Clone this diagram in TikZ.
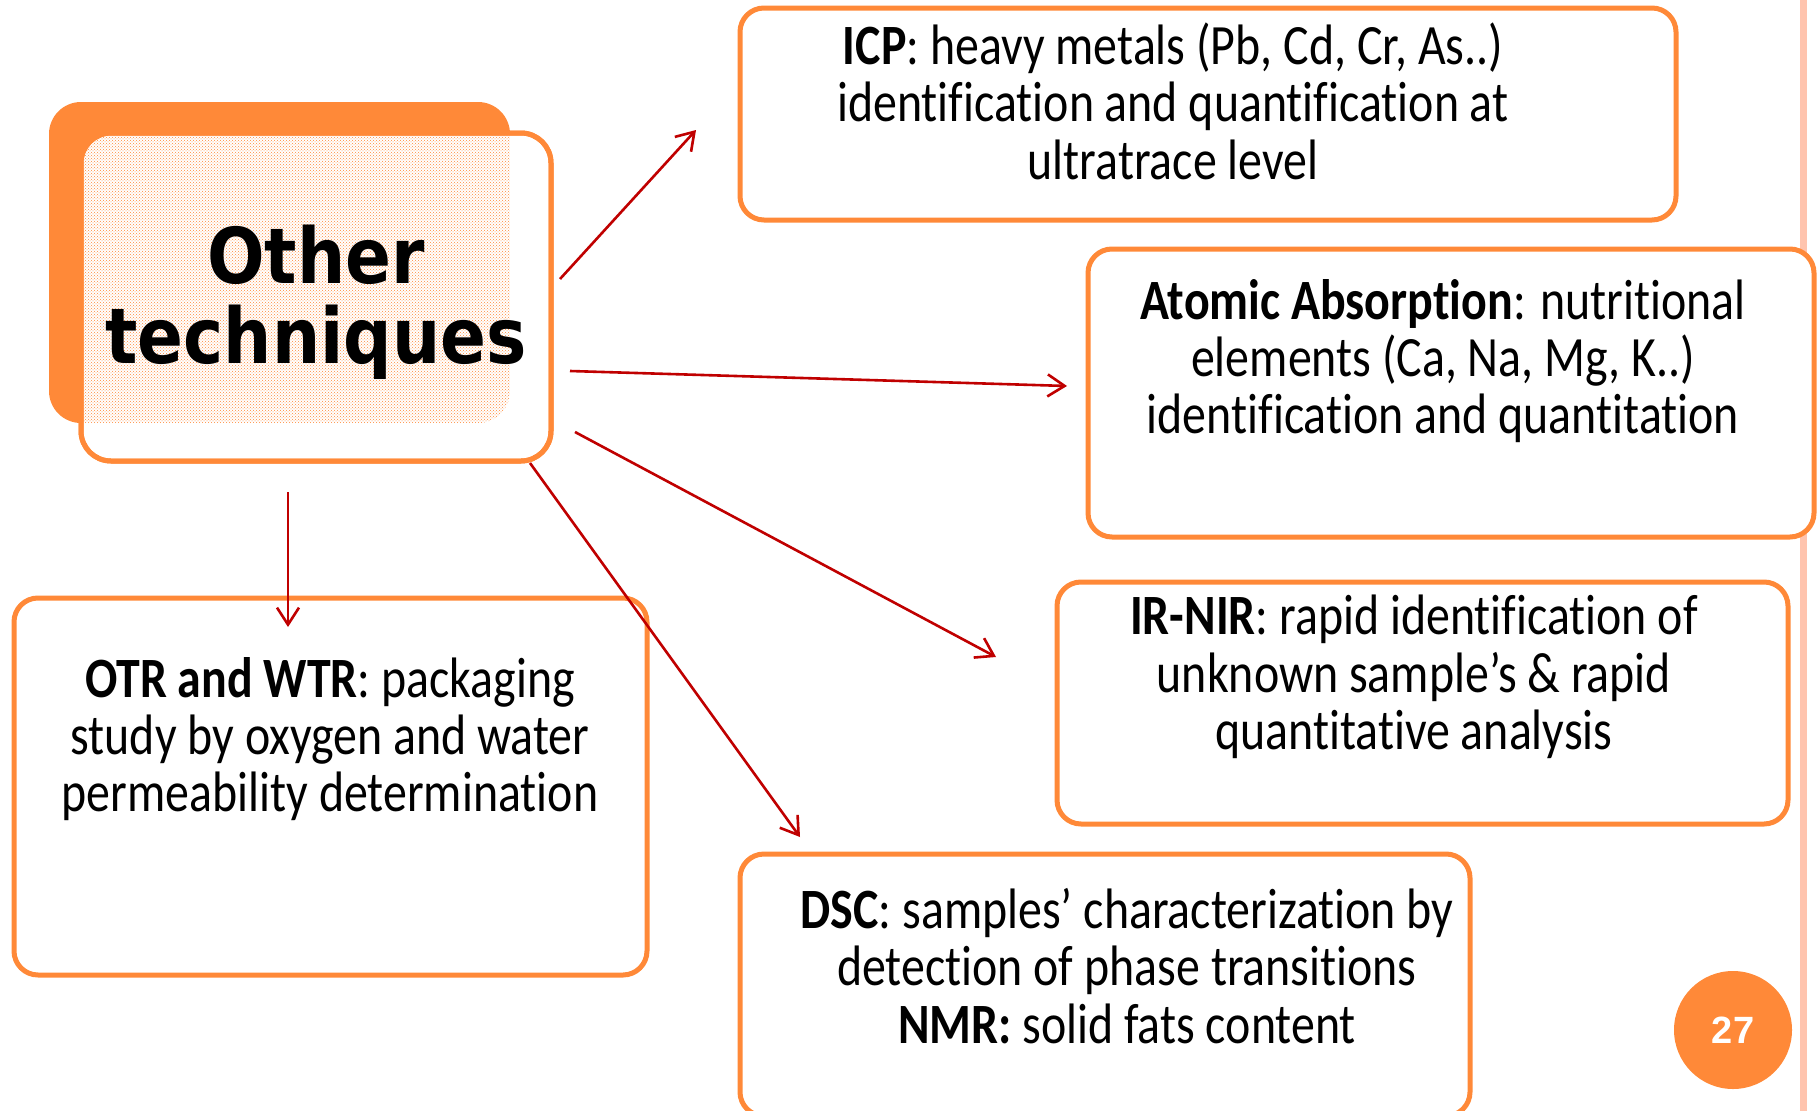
\documentclass[tikz,border=0pt]{standalone}
\usepackage{fontspec}
\setmainfont{Carlito}[FakeStretch=0.84, Ligatures={NoCommon,NoContextual}, RawFeature={-liga;-dlig;-calt}]
\newfontfamily\titlefont{DejaVu Sans}[FakeStretch=0.88]
\newfontfamily\numfont{Liberation Sans}
\usetikzlibrary{arrows.meta,patterns}

\definecolor{boxorange}{RGB}{255,137,56}
\definecolor{arrowred}{RGB}{192,0,0}
\definecolor{stripe}{RGB}{255,196,174}

\begin{document}
\begin{tikzpicture}[x=1pt,y=-1pt,
  box/.style={draw=boxorange, line width=5pt, rounded corners=24pt, fill=white,
    inner sep=0pt, outer sep=0pt},
  backbox/.style={fill=boxorange, rounded corners=32pt, inner sep=0pt, outer sep=0pt},
  body/.style={font=\fontsize{57}{57.4}\selectfont, align=center, inner sep=0pt},
  link/.style={draw=arrowred, line width=2.6pt,
    -{Straight Barb[length=17pt,width=22pt,line width=2.6pt]}}]

% page area and side stripe
\useasboundingbox (0,0) rectangle (1818,1111);
\fill[white] (0,0) rectangle (1818,1111);
\fill[stripe] (1800,0) rectangle (1807,1111);

% central title block
\node[backbox, minimum width=461pt, minimum height=321pt] (otherback) at (279.5,262.5) {};
\node[box, rounded corners=30pt, minimum width=470pt, minimum height=328pt] (other) at (316,297) {};
\begin{scope}
  \clip[rounded corners=30pt] (other.north west) rectangle (other.south east);
  \fill[pattern=crosshatch dots, pattern color=boxorange, rounded corners=32pt]
    (otherback.north west) rectangle (otherback.south east);
\end{scope}
\draw[boxorange, line width=5pt, rounded corners=30pt]
  (other.north west) rectangle (other.south east);
\node[font=\titlefont\bfseries\fontsize{77}{80}\selectfont, align=center, inner sep=0pt]
  (title) at (316,302) {Other\\techniques};

% technique boxes
\node[box, minimum width=936pt, minimum height=212pt] (icp) at (1208,114) {};
\node[box, minimum width=726pt, minimum height=288pt] (aas) at (1451,393) {};
\node[box, minimum width=731pt, minimum height=242pt] (ir) at (1422.5,703) {};
\node[box, minimum width=730pt, minimum height=262pt] (dsc) at (1105,985) {};
\node[box, minimum width=633pt, minimum height=377pt] (otr) at (330.5,786.5) {};

\node[body] (icptext) at (1173,101)
  {\textbf{ICP}: heavy metals (Pb, Cd, Cr, As..)\\identification and quantification at\\ultratrace level};
\node[body] (aastext) at (1443,361)
  {\textbf{Atomic Absorption}: nutritional\\elements (Ca, Na, Mg, K..)\\identification and quantitation};
\node[body] (irtext) at (1414,677)
  {\textbf{IR-NIR}: rapid identification of\\unknown sample’s \& rapid\\quantitative analysis};
\node[body] (dsctext) at (1127,966)
  {\textbf{DSC}: samples’ characterization by\\detection of phase transitions\\\textbf{NMR:} solid fats content};
\node[body] (otrtext) at (330,739)
  {\textbf{OTR and WTR}: packaging\\study by oxygen and water\\permeability determination};

% page number
\node[circle, fill=boxorange, minimum size=118pt, inner sep=0pt, text=white,
  font=\numfont\bfseries\fontsize{38}{38}\selectfont] (page) at (1733,1030) {27};

% connectors
\coordinate (s1) at (560,279);  \coordinate (e1) at (696,130);
\coordinate (s2) at (570,371);  \coordinate (e2) at (1067,386);
\coordinate (s3) at (575,432);  \coordinate (e3) at (996,657);
\coordinate (s4) at (530,463);  \coordinate (e4) at (800,837);
\coordinate (s5) at (288,492);  \coordinate (e5) at (288,627);
\draw[link] (s1) -- (e1);
\draw[link] (s2) -- (e2);
\draw[link] (s3) -- (e3);
\draw[link] (s4) -- (e4);
\draw[link] (s5) -- (e5);
\end{tikzpicture}
\end{document}
